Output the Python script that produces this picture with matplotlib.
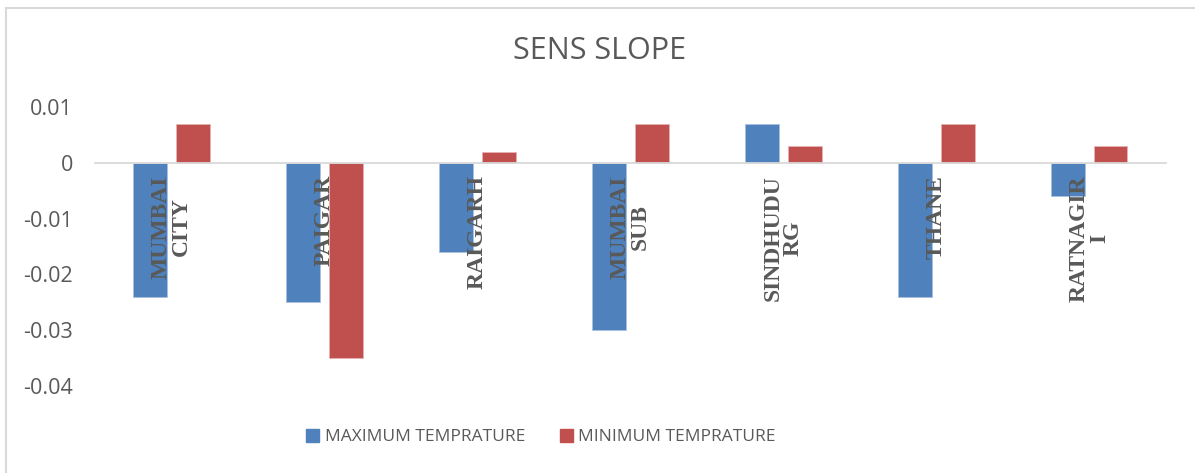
import numpy as np
import matplotlib.pyplot as plt
from matplotlib.lines import Line2D
from matplotlib.patches import Patch

districts = ['MUMBAI\nCITY', 'PAIGAR', 'RAIGARH', 'MUMBAI\nSUB', 'SINDHUDU\nRG', 'THANE', 'RATNAGIR\nI']
max_temp = [-0.024, -0.025, -0.016, -0.030, 0.007, -0.024, -0.006]
min_temp = [0.007, -0.035, 0.002, 0.007, 0.003, 0.007, 0.003]

blue = '#4F81BD'
red = '#C0504D'
grey_txt = '#595959'

fig = plt.figure(figsize=(11.95, 4.73), dpi=100)
ax = fig.add_axes([0.0795, 0.1839, 0.896, 0.5899])

ind = np.arange(len(districts))
width = 0.22  # bar width
off = 0.14    # half distance between bar centres

# bars stay below the axis so the district names are drawn over them
ax.bar(ind - off, max_temp, width, color=blue, edgecolor='#A9C0DE', linewidth=0.6,
       label='MAXIMUM TEMPRATURE', zorder=1)
ax.bar(ind + off, min_temp, width, color=red, edgecolor='#E5B1B0', linewidth=0.6,
       label='MINIMUM TEMPRATURE', zorder=1)

ax.set_xlim(-0.5, len(districts) - 0.5)
ax.set_ylim(-0.04, 0.01)
ax.set_yticks([0.01, 0, -0.01, -0.02, -0.03, -0.04])
ax.set_yticklabels(['0.01', '0', '-0.01', '-0.02', '-0.03', '-0.04'],
                   fontfamily='Open Sans', fontsize=15.5, color=grey_txt)

# x axis sits on the zero line, district names hang below it
for s in ['top', 'right', 'left']:
    ax.spines[s].set_visible(False)
ax.spines['bottom'].set_position(('data', 0))
ax.spines['bottom'].set_color('#D9D9D9')
ax.spines['bottom'].set_linewidth(1.3)

ax.set_xticks(ind)
ax.set_xticklabels(districts, rotation=90, ha='center', va='top', multialignment='center',
                   fontfamily='Liberation Serif', fontweight='bold', fontsize=17,
                   color=grey_txt, linespacing=0.95)
ax.tick_params(axis='x', length=0, pad=9)
ax.tick_params(axis='y', length=0, pad=16)

fig.text(0.502, 0.892, 'SENS SLOPE', ha='center', va='center',
         fontfamily='Open Sans', fontsize=22, color=grey_txt)

handles = [Patch(color=blue), Patch(color=red)]
fig.legend(handles, ['MAXIMUM TEMPRATURE', 'MINIMUM TEMPRATURE'], loc='center',
           bbox_to_anchor=(0.4527, 0.076), ncol=2, frameon=False,
           prop={'family': 'Open Sans', 'size': 12.5}, labelcolor=grey_txt,
           handlelength=0.75, handleheight=0.75, handletextpad=0.3, columnspacing=2.0)

# chart frame (top and left edges)
fig.add_artist(Line2D([0.005, 1.0], [0.983, 0.983], color='#D9D9D9', lw=1.5))
fig.add_artist(Line2D([0.005, 0.005], [0.0, 0.983], color='#D9D9D9', lw=1.5))

fig.savefig('out.png', dpi=100)
